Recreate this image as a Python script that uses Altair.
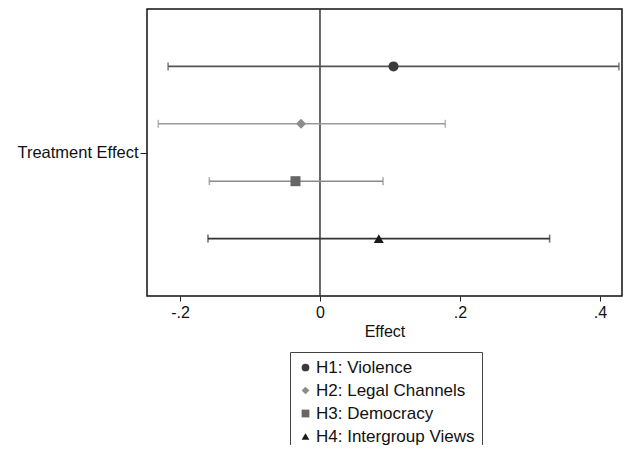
import altair as alt
import pandas as pd

# ---- data ----
hypotheses = ["H1: Violence", "H2: Legal Channels", "H3: Democracy", "H4: Intergroup Views"]
rows = [1, 2, 3, 4]
estimates = [0.105, -0.027, -0.035, 0.084]
ci_low = [-0.217, -0.231, -0.158, -0.160]
ci_high = [0.427, 0.179, 0.090, 0.328]

shapes = ["circle", "diamond", "square", "triangle-up"]
point_colors = ["#3a3a3a", "#8c8c8c", "#666666", "#1a1a1a"]
line_colors = ["#555555", "#9a9a9a", "#8a8a8a", "#333333"]

x_ticks = [-0.2, 0.0, 0.2, 0.4]
x_tick_labels = ["-.2", "0", ".2", ".4"]
x_domain = [-0.2471, 0.4314]
y_domain = [0, 5]
y_tick = [2.5]
y_tick_label = "Treatment Effect"

df = pd.DataFrame({
    "hyp": hypotheses,
    "row": rows,
    "est": estimates,
    "lo": ci_low,
    "hi": ci_high,
})
zero_df = pd.DataFrame({"zero": [0.0]})

FONT = "Liberation Sans"

# label expression built from the tick lists
expr = ""
for v, lab in zip(x_ticks, x_tick_labels):
    expr += f"abs(datum.value - ({v})) < 0.01 ? '{lab}' : "
expr += "''"

x_scale = alt.Scale(domain=x_domain, nice=False, zero=False)
y_scale = alt.Scale(domain=y_domain, reverse=True, nice=False, zero=False)

x_axis = alt.Axis(values=x_ticks, labelExpr=expr, title="Effect", grid=False,
                  domain=False, tickColor="#222", tickSize=5, labelPadding=3,
                  labelFontSize=16, titleFontSize=16, titleFontWeight="normal",
                  labelColor="#111", titleColor="#111", titlePadding=3,
                  labelFont=FONT, titleFont=FONT)
y_axis = alt.Axis(values=y_tick, labelExpr=f"'{y_tick_label}'", title=None, grid=False,
                  domain=False, tickColor="#222", tickSize=7, labelPadding=2,
                  labelFontSize=16.5, labelColor="#111", labelFont=FONT)

base = alt.Chart(df)

layers = []
zero_line = alt.Chart(zero_df).mark_rule(color="#2a2a2a", strokeWidth=1.4).encode(
    x=alt.X("zero:Q", scale=x_scale, axis=x_axis),
)
layers.append(zero_line)

for h, lc in zip(hypotheses, line_colors):
    sub = base.transform_filter(alt.datum.hyp == h)
    layers.append(sub.mark_rule(strokeWidth=1.6, color=lc).encode(
        x=alt.X("lo:Q", scale=x_scale, axis=x_axis),
        x2="hi:Q",
        y=alt.Y("row:Q", scale=y_scale, axis=y_axis),
    ))
    layers.append(sub.transform_fold(["lo", "hi"], as_=["end", "val"]).mark_tick(
        orient="vertical", size=8, thickness=1.6, color=lc
    ).encode(
        x=alt.X("val:Q", scale=x_scale, axis=x_axis),
        y=alt.Y("row:Q", scale=y_scale, axis=y_axis),
    ))

legend = alt.Legend(title=None, orient="none", legendX=143, legendY=343,
                    labelFontSize=17, labelFont=FONT, labelColor="#111",
                    symbolSize=60, rowPadding=5, padding=7, labelOffset=2,
                    strokeColor="#444")

points = base.mark_point(filled=True, size=100, opacity=1).encode(
    x=alt.X("est:Q", scale=x_scale, axis=x_axis),
    y=alt.Y("row:Q", scale=y_scale, axis=y_axis),
    color=alt.Color("hyp:N", scale=alt.Scale(domain=hypotheses, range=point_colors), legend=legend),
    shape=alt.Shape("hyp:N", scale=alt.Scale(domain=hypotheses, range=shapes), legend=legend),
)
layers.append(points)

chart = alt.layer(*layers).properties(
    width=475, height=287,
    autosize=alt.AutoSizeParams(type="none"),
    padding={"left": 139, "top": 1, "right": 1, "bottom": 149},
    background="white",
).configure_view(
    stroke="#111", strokeWidth=1.5
)

chart.save("out.html", embed_options={"renderer": "svg", "actions": False})
